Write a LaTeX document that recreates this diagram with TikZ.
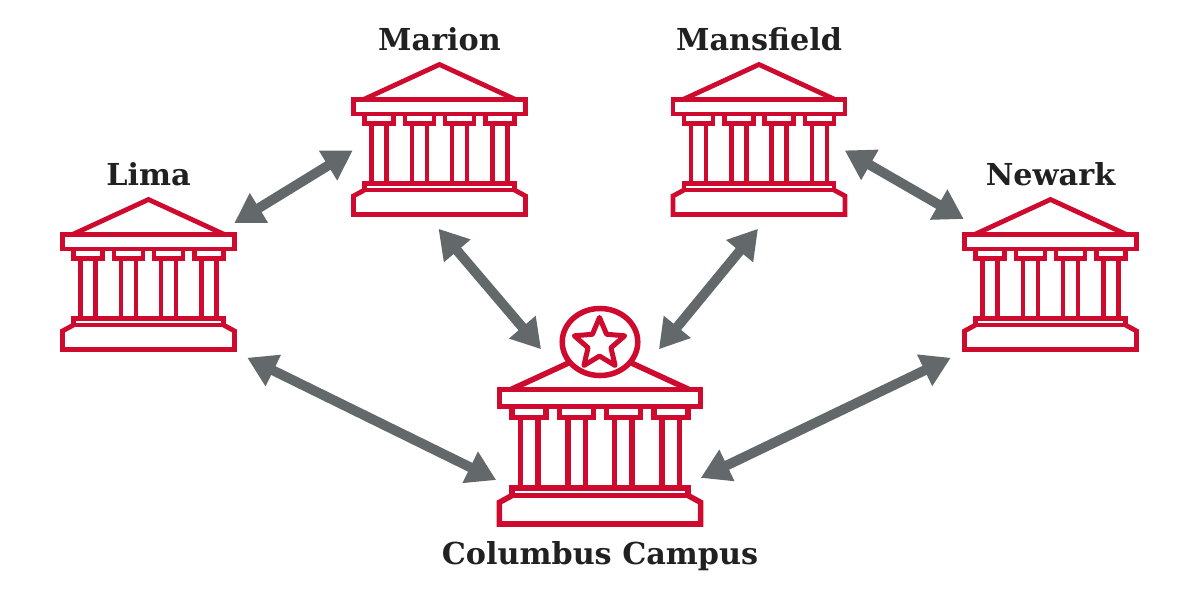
\documentclass[tikz,border=0pt]{standalone}
\usepackage{fontspec}
\setmainfont{DejaVu Serif}
\usetikzlibrary{arrows.meta,positioning,shapes.geometric}

\definecolor{scarlet}{HTML}{CE0A2E}
\definecolor{linkgray}{HTML}{63686B}
\definecolor{inkblack}{HTML}{212121}

\tikzset{
  campus/.style={minimum width=1.76cm,minimum height=1.55cm,inner sep=0pt},
  campusname/.style={text=inkblack,font=\fontsize{8.6pt}{11pt}\bfseries,inner sep=0pt},
  link/.style={linkgray,line width=0.098cm,
    {Triangle[length=0.29cm,width=0.33cm]}-{Triangle[length=0.29cm,width=0.33cm]}},
  temple/.pic={
    % roof
    \draw[scarlet] (-76,38) -- (0,3) -- (76,38);
    % entablature
    \draw[scarlet] (-86,38) rectangle (86,52.5);
    % capitals and columns
    \foreach \c in {-60.5,-20,20,60.5} {
      \draw[scarlet] (\c-14.5,52.5) -- (\c-14.5,62) -- (\c+14.5,62) -- (\c+14.5,52.5);
      \draw[scarlet] (\c-7.5,62) -- (\c-7.5,122);
      \draw[scarlet] (\c+7.5,62) -- (\c+7.5,122);
    }
    % base
    \draw[scarlet] (-75,122) rectangle (75,128.5);
    \draw[scarlet] (-75,128.5) -- (-86,134.5) -- (-86,153) -- (86,153) -- (86,134.5) -- (75,128.5);
  }
}

\begin{document}
\begin{tikzpicture}[x=0.01cm,y=-0.01cm]

  \useasboundingbox (0,0) rectangle (1200,600);

  % the campuses
  \node[campus] (lima) at (148.5,274.5) {};
  \node[campus] (marion) at (439.5,139.5) {};
  \node[campus] (mansfield) at (759,139.5) {};
  \node[campus] (newark) at (1050.5,274.5) {};
  \node[campus,minimum width=2.06cm,minimum height=1.82cm] (columbus) at (600,436) {};

  \pic[line width=0.048cm] at (148.5,196.5) {temple};
  \pic[line width=0.048cm] at (439.5,61.5) {temple};
  \pic[line width=0.048cm] at (759,61.5) {temple};
  \pic[line width=0.048cm] at (1050.5,196.5) {temple};
  \pic[scale=1.17,line width=0.056cm] at (600,345) {temple};

  % dome and star of the main campus
  \node[ellipse,draw=scarlet,fill=white,line width=0.055cm,minimum width=0.755cm,minimum height=0.67cm,inner sep=0pt] (dome) at (600,342) {};
  \node[star,star points=5,star point ratio=2.2,draw=scarlet,line width=0.05cm,line join=round,minimum size=0.53cm,inner sep=0pt] (star) at (599.5,344) {};

  % names
  \node[campusname,above=0.10cm of marion] (marionname) {Marion};
  \node[campusname,above=0.10cm of mansfield] (mansfieldname) {Mansfield};
  \node[campusname,above=0.10cm of lima] (limaname) {Lima};
  \node[campusname,above=0.10cm of newark] (newarkname) {Newark};
  \node[campusname,below=0.13cm of columbus] (columbusname) {Columbus Campus};

  % links between the campuses
  \draw[link] ([shift={(-3,2)}]lima.31) -- ([shift={(2,0)}]marion.187);
  \draw[link] ([shift={(-1,11)}]marion.south) -- ([shift={(3,5)}]columbus.124);
  \draw[link] ([shift={(-1,11)}]mansfield.south) -- ([shift={(-3,5)}]columbus.56);
  \draw[link] ([shift={(-3,0)}]mansfield.-7) -- ([shift={(2,0)}]newark.148);
  \draw[link] ([shift={(10,5)}]lima.south east) -- (columbus.203.6);
  \draw[link] ([shift={(-11,5)}]newark.south west) -- ([shift={(-3,0)}]columbus.-22.8);

\end{tikzpicture}
\end{document}
